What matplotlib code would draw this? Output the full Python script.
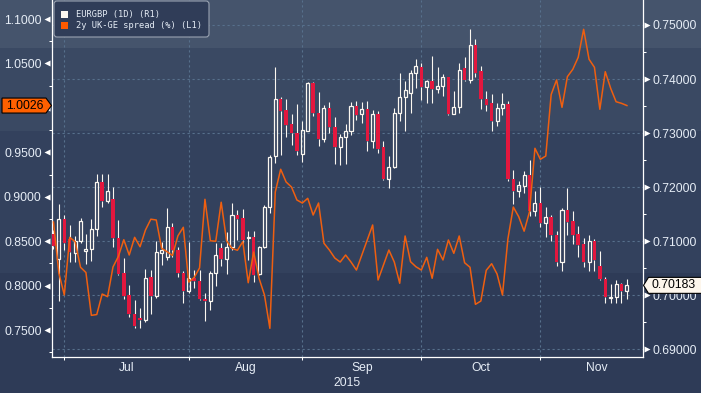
import matplotlib
matplotlib.use("Agg")
import matplotlib.pyplot as plt
import numpy as np
import pandas as pd
from matplotlib.patches import Rectangle, Polygon, FancyBboxPatch
from matplotlib.ticker import FixedLocator, FixedFormatter, MultipleLocator, NullFormatter, FormatStrFormatter, FuncFormatter
from matplotlib.transforms import IdentityTransform

# ============================================================
# DATA  (EURGBP daily candles, right axis / 2y UK-GE spread, left axis)
# ============================================================

dates = pd.bdate_range("2015-06-29", "2015-11-24")

opens = [0.7113, 0.7067, 0.7141, 0.7104, 0.7079, 0.7100, 0.7081, 0.7085, 0.7122, 0.7210,
         0.7175, 0.7178, 0.7105, 0.7041, 0.7000, 0.6966, 0.6958, 0.6954, 0.7033, 0.6999,
         0.7079, 0.7071, 0.7126, 0.7084, 0.7041, 0.7008, 0.7032, 0.7026, 0.6993, 0.6990,
         0.7042, 0.7087, 0.7067, 0.7089, 0.7149, 0.7142, 0.7105, 0.7107, 0.7039, 0.7089,
         0.7164, 0.7258, 0.7364, 0.7343, 0.7317, 0.7300, 0.7261, 0.7304, 0.7392, 0.7337,
         0.7290, 0.7346, 0.7311, 0.7275, 0.7292, 0.7303, 0.7350, 0.7335, 0.7344, 0.7286,
         0.7335, 0.7274, 0.7215, 0.7237, 0.7337, 0.7366, 0.7375, 0.7411, 0.7423, 0.7386,
         0.7397, 0.7381, 0.7387, 0.7403, 0.7336, 0.7348, 0.7420, 0.7398, 0.7463, 0.7414,
         0.7363, 0.7355, 0.7323, 0.7346, 0.7354, 0.7216, 0.7192, 0.7203, 0.7223, 0.7156,
         0.7170, 0.7133, 0.7145, 0.7112, 0.7062, 0.7158, 0.7137, 0.7113, 0.7095, 0.7062,
         0.7101, 0.7054, 0.7030, 0.6995, 0.6996, 0.7021, 0.7008]

highs = [0.7120, 0.7169, 0.7149, 0.7130, 0.7110, 0.7143, 0.7114, 0.7141, 0.7224, 0.7224,
         0.7224, 0.7201, 0.7139, 0.7068, 0.7019, 0.6991, 0.6976, 0.7049, 0.7046, 0.7100,
         0.7098, 0.7161, 0.7133, 0.7090, 0.7045, 0.7099, 0.7047, 0.7047, 0.7004, 0.7045,
         0.7096, 0.7096, 0.7117, 0.7171, 0.7158, 0.7159, 0.7118, 0.7118, 0.7091, 0.7167,
         0.7259, 0.7422, 0.7367, 0.7364, 0.7335, 0.7354, 0.7323, 0.7395, 0.7395, 0.7376,
         0.7352, 0.7358, 0.7330, 0.7298, 0.7317, 0.7357, 0.7360, 0.7358, 0.7360, 0.7343,
         0.7341, 0.7286, 0.7258, 0.7346, 0.7412, 0.7397, 0.7417, 0.7437, 0.7430, 0.7398,
         0.7443, 0.7423, 0.7409, 0.7404, 0.7378, 0.7429, 0.7440, 0.7492, 0.7474, 0.7424,
         0.7377, 0.7372, 0.7355, 0.7374, 0.7360, 0.7232, 0.7212, 0.7229, 0.7250, 0.7193,
         0.7200, 0.7164, 0.7149, 0.7118, 0.7161, 0.7198, 0.7156, 0.7128, 0.7105, 0.7112,
         0.7104, 0.7081, 0.7034, 0.7021, 0.7028, 0.7023, 0.7030]

lows = [0.7085, 0.6990, 0.7084, 0.7062, 0.7062, 0.7097, 0.7058, 0.7063, 0.7110, 0.7164,
        0.7170, 0.7090, 0.7038, 0.6993, 0.6960, 0.6939, 0.6940, 0.6950, 0.6966, 0.6995,
        0.7056, 0.7065, 0.7071, 0.7034, 0.6986, 0.7005, 0.7013, 0.6991, 0.6953, 0.6973,
        0.7017, 0.7055, 0.7040, 0.7084, 0.7102, 0.7096, 0.7065, 0.7025, 0.7038, 0.7087,
        0.7153, 0.7244, 0.7260, 0.7293, 0.7278, 0.7260, 0.7247, 0.7303, 0.7332, 0.7276,
        0.7284, 0.7300, 0.7243, 0.7241, 0.7243, 0.7297, 0.7324, 0.7319, 0.7267, 0.7272,
        0.7263, 0.7213, 0.7198, 0.7235, 0.7323, 0.7304, 0.7337, 0.7383, 0.7361, 0.7356,
        0.7356, 0.7375, 0.7369, 0.7334, 0.7335, 0.7338, 0.7397, 0.7393, 0.7403, 0.7344,
        0.7340, 0.7304, 0.7313, 0.7334, 0.7212, 0.7169, 0.7181, 0.7190, 0.7147, 0.7147,
        0.7126, 0.7108, 0.7101, 0.7054, 0.7044, 0.7112, 0.7095, 0.7070, 0.7052, 0.7044,
        0.7044, 0.7028, 0.6986, 0.6985, 0.6985, 0.6986, 0.6993]

closes = [0.7091, 0.7141, 0.7096, 0.7080, 0.7101, 0.7138, 0.7086, 0.7122, 0.7210, 0.7175,
          0.7192, 0.7105, 0.7039, 0.6999, 0.6965, 0.6943, 0.6954, 0.7032, 0.6999, 0.7080,
          0.7083, 0.7126, 0.7083, 0.7041, 0.7008, 0.7032, 0.7026, 0.6993, 0.6990, 0.7042,
          0.7075, 0.7067, 0.7090, 0.7149, 0.7141, 0.7102, 0.7107, 0.7038, 0.7090, 0.7164,
          0.7256, 0.7364, 0.7341, 0.7315, 0.7300, 0.7267, 0.7305, 0.7393, 0.7337, 0.7290,
          0.7346, 0.7311, 0.7275, 0.7292, 0.7304, 0.7350, 0.7334, 0.7344, 0.7286, 0.7335,
          0.7270, 0.7215, 0.7237, 0.7337, 0.7366, 0.7379, 0.7411, 0.7425, 0.7386, 0.7397,
          0.7381, 0.7387, 0.7403, 0.7335, 0.7348, 0.7417, 0.7398, 0.7463, 0.7412, 0.7363,
          0.7352, 0.7323, 0.7346, 0.7354, 0.7215, 0.7193, 0.7204, 0.7223, 0.7156, 0.7170,
          0.7133, 0.7145, 0.7112, 0.7062, 0.7158, 0.7136, 0.7112, 0.7093, 0.7062, 0.7101,
          0.7065, 0.7030, 0.6996, 0.6997, 0.7021, 0.7008, 0.70183]

spread = [0.8715, 0.8138, 0.7894, 0.8543, 0.8494, 0.8206, 0.8147, 0.7665, 0.7674, 0.7905,
          0.7875, 0.8209, 0.8329, 0.8516, 0.8344, 0.8543, 0.8437, 0.8625, 0.8747, 0.8738,
          0.8419, 0.8381, 0.8338, 0.8560, 0.8656, 0.8040, 0.8091, 0.8198, 0.8971, 0.8504,
          0.8499, 0.8938, 0.8504, 0.8419, 0.8397, 0.8494, 0.8032, 0.8378, 0.8082, 0.7894,
          0.7519, 0.9053, 0.9309, 0.9166, 0.9109, 0.8963, 0.8929, 0.8982, 0.8794, 0.8929,
          0.8476, 0.8400, 0.8310, 0.8265, 0.8344, 0.8265, 0.8175, 0.8344, 0.8513, 0.8682,
          0.8063, 0.8232, 0.8400, 0.8265, 0.8026, 0.8558, 0.8269, 0.8212, 0.8175, 0.8318,
          0.8082, 0.8408, 0.8288, 0.8513, 0.8363, 0.8558, 0.8257, 0.8206, 0.7789, 0.7826,
          0.8172, 0.8246, 0.8130, 0.7894, 0.8524, 0.8884, 0.8775, 0.8612, 0.8831, 0.9545,
          0.9421, 0.9458, 1.0150, 1.0314, 1.0006, 1.0351, 1.0434, 1.0569, 1.0884, 1.0547,
          1.0456, 0.9984, 1.0407, 1.0220, 1.0069, 1.0051, 1.0026]

legend_labels = ["EURGBP (1D) (R1)", "2y UK-GE spread (%) (L1)"]
year_label = "2015"

# ============================================================
# STYLE
# ============================================================

W, H = 701, 393
RED = "#e3173e"
WHITE = "#fbf7f0"
ORANGE = "#ef5f10"
GRID = "#57708c"
TXT = "#e6edf6"
FONT = "Liberation Sans"
plt.rcParams["font.family"] = [FONT, "DejaVu Sans"]

# background bands (pixel rows, top -> bottom)
bands = [(0, 48, "#45546c"), (48, 131, "#3a4963"), (131, 273, "#33415d"), (273, H, "#2e3b57")]

fig = plt.figure(figsize=(W / 100, H / 100), dpi=100)
for top, bot, col in bands:
    fig.patches.append(Rectangle((0, 1 - bot / H), 1, (bot - top) / H, transform=fig.transFigure,
                                 facecolor=col, edgecolor="none", zorder=-5))

ax_c = fig.add_axes([51.7 / W, 1 - 357 / H, 591 / W, 357 / H])
ax_c.set_facecolor("none")
ax_o = ax_c.twinx()
ax_c.yaxis.tick_right()
ax_o.yaxis.tick_left()

n = len(dates)
x = np.arange(n)
o = np.array(opens); h = np.array(highs); l = np.array(lows); c = np.array(closes)
up = c > o
top = np.maximum(o, c); bot = np.minimum(o, c)

# ---- candles (right axis) ----
ax_c.vlines(x, top, h, color=WHITE, lw=0.8, zorder=3)
ax_c.vlines(x, l, bot, color=WHITE, lw=0.8, zorder=3)
for i in x:
    if up[i]:
        ax_c.add_patch(Rectangle((i - 0.28, bot[i]), 0.56, top[i] - bot[i], facecolor="none",
                                 edgecolor=WHITE, lw=0.9, zorder=4))
    else:
        ax_c.add_patch(Rectangle((i - 0.32, bot[i]), 0.64, top[i] - bot[i], facecolor=RED,
                                 edgecolor="none", zorder=4))

# ---- spread line (left axis) ----
ax_o.plot(x, spread, color=ORANGE, lw=1.1, zorder=5)

# ---- limits ----
ax_c.set_xlim(-0.33, 108.92)
ax_c.set_ylim(0.688575, 0.754625)
ax_o.set_ylim(0.719626, 1.121382)

# ---- month ticks ----
month_starts = [i for i in range(1, n) if dates[i].month != dates[i - 1].month]
month_mids, month_names = [], []
for i in month_starts:
    ndays = len(pd.bdate_range(dates[i], dates[i] + pd.offsets.MonthEnd(0)))
    month_mids.append(i + ndays / 2)
    month_names.append(dates[i].strftime("%b"))

ax_c.xaxis.set_major_locator(FixedLocator(month_starts))
ax_c.xaxis.set_major_formatter(NullFormatter())
ax_c.xaxis.set_minor_locator(FixedLocator(month_mids))
ax_c.xaxis.set_minor_formatter(FixedFormatter(month_names))
ax_c.tick_params(axis="x", which="major", length=2.5, width=0.75, color="white", direction="out")
ax_c.tick_params(axis="x", which="minor", length=0, pad=3.5, labelsize=8.7, labelcolor=TXT)

# ---- right y axis (EURGBP) ----
ax_c.yaxis.set_major_locator(MultipleLocator(0.01))
ax_c.yaxis.set_minor_locator(MultipleLocator(0.005))
ax_c.yaxis.set_major_formatter(FormatStrFormatter("%.5f"))
ax_c.tick_params(axis="y", which="major", right=True, left=False, labelright=True, labelleft=False,
                 length=0, pad=6.8, labelsize=8.7, labelcolor=TXT)
ax_c.tick_params(axis="y", which="minor", right=True, left=False, length=2.5, width=0.75,
                 color="white", direction="out")

# ---- left y axis (spread) ----
# the 1.0000 label sits under the last-value tag, so it is left blank
ax_o.yaxis.set_major_locator(MultipleLocator(0.05))
ax_o.yaxis.set_minor_locator(MultipleLocator(0.025))
ax_o.yaxis.set_major_formatter(FuncFormatter(lambda v, p: "" if abs(v - 1.0) < 1e-6 else f"{v:.4f}"))
ax_o.tick_params(axis="y", which="major", left=True, right=False, labelleft=True, labelright=False,
                 length=0, pad=7.2, labelsize=8.7, labelcolor=TXT)
ax_o.tick_params(axis="y", which="minor", left=True, right=False, length=2.5, width=0.75,
                 color="white", direction="out")

# caret markers at the major ticks
r_ticks = np.arange(0.69, 0.7501, 0.01)
l_ticks = np.arange(0.75, 1.1001, 0.05)
ax_c.plot(np.full(len(r_ticks), 1.0068), r_ticks, ls="none", marker=">", ms=4, color="white",
          mec="none", transform=ax_c.get_yaxis_transform(), clip_on=False)
ax_o.plot(np.full(len(l_ticks), -0.0072), l_ticks, ls="none", marker="<", ms=4, color="white",
          mec="none", transform=ax_o.get_yaxis_transform(), clip_on=False)

# ---- grid ----
ax_c.grid(axis="y", which="major", color=GRID, lw=0.8, ls=(0, (2, 2.5)))
ax_c.grid(axis="x", which="major", color=GRID, lw=0.8, ls=(0, (2, 2.5)))
ax_c.set_axisbelow(True)

# ---- spines ----
ax_c.spines["top"].set_visible(False)
for sp in ["left", "right", "bottom"]:
    ax_c.spines[sp].set_color("white")
    ax_c.spines[sp].set_linewidth(0.9)
for sp in ax_o.spines.values():
    sp.set_visible(False)

fig.text(0.5 * (51.7 + 642.7) / W, 1 - 383 / H, year_label, ha="center", va="center",
         fontsize=8.7, color=TXT)

# ---- last value labels ----
fig.canvas.draw()
ident = IdentityTransform()
yl = ax_o.transData.transform((0, spread[-1]))[1]
fig.patches.append(Polygon([(2, yl - 7.5), (46, yl - 7.5), (51.5, yl), (46, yl + 7.5), (2, yl + 7.5)],
                           closed=True, facecolor="#ff6000", edgecolor="black", lw=0.8,
                           transform=ident, zorder=10))
fig.text(25, yl, f"{spread[-1]:.4f}", ha="center", va="center", fontsize=8.7, color="black",
         transform=ident, zorder=11)

yr = ax_c.transData.transform((0, closes[-1]))[1]
fig.patches.append(Polygon([(643.5, yr), (648.5, yr - 8), (702, yr - 8), (702, yr + 8), (648.5, yr + 8)],
                           closed=True, facecolor="#fdf6ec", edgecolor="black", lw=0.8,
                           transform=ident, zorder=10))
fig.text(651, yr, f"{closes[-1]:.5f}", ha="left", va="center", fontsize=8.7, color="black",
         transform=ident, zorder=11)

# ---- legend ----
fig.patches.append(FancyBboxPatch((54, H - 37), 155, 36, boxstyle="round,pad=0,rounding_size=3",
                                  facecolor="#303d58", edgecolor="#9aa3b1", lw=0.8,
                                  transform=ident, zorder=10))
for k, (lab, col) in enumerate(zip(legend_labels, [WHITE, "#ff5a00"])):
    yc = H - (14.5 + 11 * k)
    fig.patches.append(Rectangle((61, yc - 3.5), 7, 7, facecolor=col, edgecolor="none",
                                 transform=ident, zorder=11))
    fig.text(76, yc, lab, ha="left", va="center", fontsize=6.3, family="DejaVu Sans Mono",
             color=TXT, transform=ident, zorder=11)

fig.savefig("out.png", dpi=100)
